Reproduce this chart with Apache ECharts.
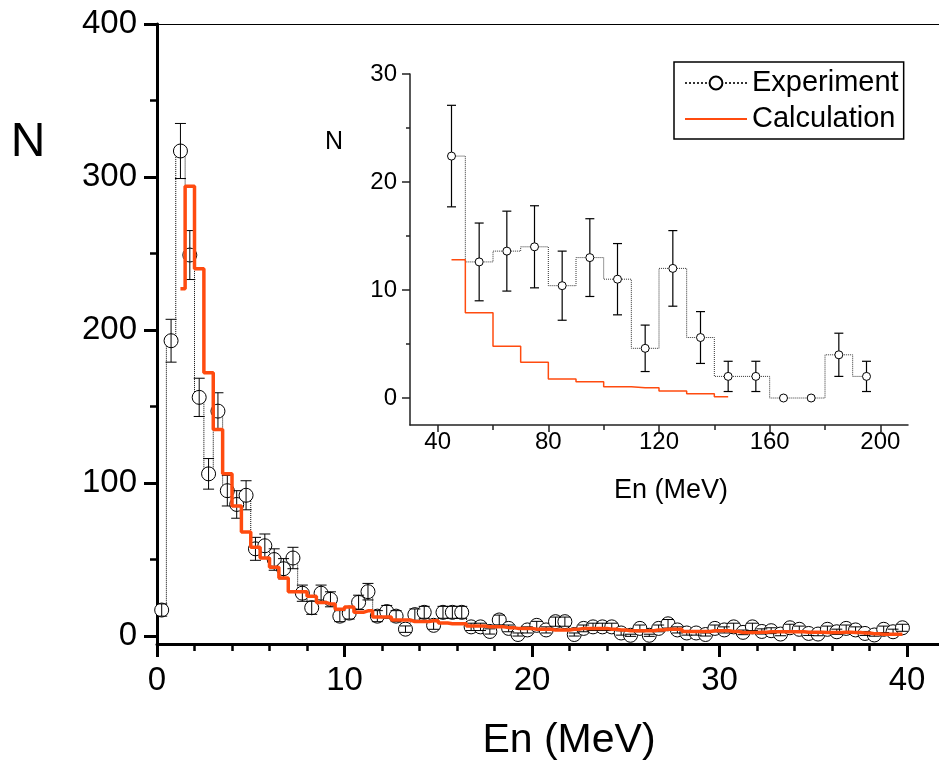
<!DOCTYPE html>
<html><head><meta charset="utf-8">
<script src="https://cdn.jsdelivr.net/npm/echarts@6/dist/echarts.min.js"></script>
<style>html,body{margin:0;padding:0;background:#fff}#c{width:939px;height:762px}</style>
</head><body><div id="c"></div>
<script>
const FONT = '"Liberation Sans", Arial, Helvetica, sans-serif';
const ORANGE = '#ff4b0f';

// ---------- main plot data ----------
const mainBinWidth = 0.5;
const mainExpFirstCenter = 0.25;
const mainExp = [
  17, 193, 317, 249, 156, 106, 147, 95, 86, 92,
  57, 59, 50, 44, 51, 28, 18.5, 28, 24, 13,
  15, 22, 29, 13, 16, 13, 4.5, 14, 15.5, 7,
  15.5, 15.5, 15.5, 6, 6, 3, 10.5, 5, 1, 4,
  7, 4, 9.4, 9.4, 1, 5, 6, 6, 6, 2,
  0.5, 5, 0.5, 5, 8, 4, 2, 2, 1, 5,
  4, 6, 2.4, 6, 3, 3.5, 1.3, 5.4, 4.4, 1.7,
  1.3, 4.4, 2.8, 5, 4, 1.7, 0.7, 4.4, 2.8, 5.4
];
const mainExpErr = [
  4, 14, 18, 16, 12.5, 10, 12, 10, 9, 9.5,
  7.5, 7.7, 7, 6.6, 7, 5.3, 4.3, 5.3, 4.9, 3.6,
  3.9, 4.7, 5.4, 3.6, 4, 3.6, 2.1, 3.7, 3.9, 2.6,
  3.9, 3.9, 3.9, 2.4, 2.4, 1.7, 3.2, 2.2, 1, 2,
  2.6, 2, 3, 3, 1, 2.2, 2.4, 2.4, 2.4, 1.4,
  0.7, 2.2, 0.7, 2.2, 2.8, 2, 1.4, 1.4, 1, 2.2,
  2, 2.4, 1.5, 2.4, 1.7, 1.9, 1.1, 2.3, 2.1, 1.3,
  1.1, 2.1, 1.7, 2.2, 2, 1.3, 0.8, 2.1, 1.7, 2.3
];
const mainCalcFirstCenter = 1.25;
const mainCalc = [
  227, 294, 240, 172, 135, 106, 85, 68, 58, 51,
  45, 38, 29, 29, 26, 22, 21, 17.5, 19, 15.5,
  16.5, 12.5, 12.5, 10.5, 10.5, 9.5, 9.5, 10, 8.5, 8,
  8, 6.5, 6.5, 6, 6, 5.5, 5, 5, 4.5, 4.5,
  4, 4, 4.5, 5, 5, 5, 4.5, 4, 3.5, 3.5,
  3.5, 4, 4.5, 4.5, 3, 3, 3, 3.5, 3.5, 3,
  2.3, 2.3, 2.5, 2.8, 2.8, 2.8, 2.8, 2.5, 2.5, 2.3,
  2.3, 2.5, 2.3, 2, 1.5, 1.2, 1.2, 1.2
];
const mainXTicks = [0, 10, 20, 30, 40];
const mainXMinor = [2, 4, 6, 8, 12, 14, 16, 18, 22, 24, 26, 28, 32, 34, 36, 38];
const mainYTicks = [0, 100, 200, 300, 400];
const mainYMinor = [50, 150, 250, 350];

// ---------- inset data ----------
const insetCenters = [45, 55, 65, 75, 85, 95, 105, 115, 125, 135, 145, 155, 165, 175, 185, 195];
const insetExp = [22.4, 12.6, 13.6, 14.0, 10.4, 13.0, 11.0, 4.6, 12.0, 5.6, 2.0, 2.0, 0, 0, 4.0, 2.0];
const insetErr = [4.7, 3.6, 3.7, 3.8, 3.2, 3.6, 3.3, 2.15, 3.5, 2.4, 1.4, 1.4, 0, 0, 2.0, 1.4];
const insetCalcCenters = [45, 55, 65, 75, 85, 95, 105, 115, 125, 135, 145];
const insetCalc = [12.8, 7.9, 4.8, 3.3, 1.75, 1.5, 1.05, 0.95, 0.65, 0.4, 0.12];
const insetXTicks = [40, 80, 120, 160, 200];
const insetXMinor = [60, 100, 140, 180];
const insetYTicks = [0, 10, 20, 30];
const insetYMinor = [5, 15, 25];

// ---------- build series data ----------
const mainExpData = mainExp.map((v, i) => [mainExpFirstCenter + i * mainBinWidth, v]);
const mainErrData = mainExp.map((v, i) => [mainExpFirstCenter + i * mainBinWidth, v, mainExpErr[i]]);
const mainCalcData = mainCalc.map((v, i) => [mainCalcFirstCenter + i * mainBinWidth, v]);
const insetExpData = insetExp.map((v, i) => [insetCenters[i], v]);
const insetErrData = insetExp.map((v, i) => [insetCenters[i], v, insetErr[i]]);
const insetCalcData = insetCalc.map((v, i) => [insetCalcCenters[i], v]);

function errRender(cap, width) {
  return function (params, api) {
    const x = api.value(0), y = api.value(1), e = api.value(2);
    if (!(e > 0)) return null;
    const top = api.coord([x, y + e]);
    const bot = api.coord([x, y - e]);
    const style = { stroke: '#000', lineWidth: width, fill: null };
    return {
      type: 'group',
      children: [
        { type: 'line', shape: { x1: top[0], y1: top[1], x2: bot[0], y2: bot[1] }, style: style },
        { type: 'line', shape: { x1: top[0] - cap, y1: top[1], x2: top[0] + cap, y2: top[1] }, style: style },
        { type: 'line', shape: { x1: bot[0] - cap, y1: bot[1], x2: bot[0] + cap, y2: bot[1] }, style: style }
      ]
    };
  };
}

const chart = echarts.init(document.getElementById('c'), null, { renderer: 'canvas' });

const mainAxisLine = { show: true, onZero: false, lineStyle: { color: '#000', width: 3 } };
const insetAxisLine = { show: true, onZero: false, lineStyle: { color: '#222', width: 1.5 } };
const hiddenLine = { show: false, onZero: false };

const option = {
  animation: false,
  backgroundColor: '#fff',
  grid: [
    { left: 157, right: 0, top: 24, bottom: 118, containLabel: false },
    { left: 410, right: 31, top: 74, bottom: 337, containLabel: false }
  ],
  xAxis: [
    { // 0 main major
      type: 'value', gridIndex: 0, min: 0, max: 41.7, position: 'bottom',
      axisLine: mainAxisLine,
      axisTick: { show: true, customValues: mainXTicks, length: 13, lineStyle: { color: '#000', width: 3 } },
      axisLabel: { show: true, customValues: mainXTicks, fontSize: 33, color: '#000', fontFamily: FONT, margin: 20 },
      splitLine: { show: false }
    },
    { // 1 main minor
      type: 'value', gridIndex: 0, min: 0, max: 41.7, position: 'bottom',
      axisLine: hiddenLine,
      axisTick: { show: true, customValues: mainXMinor, length: 7, lineStyle: { color: '#000', width: 2.5 } },
      axisLabel: { show: false }, splitLine: { show: false }
    },
    { // 2 main top frame
      type: 'value', gridIndex: 0, min: 0, max: 41.7, position: 'top',
      axisLine: { show: true, onZero: false, lineStyle: { color: '#000', width: 1 } },
      axisTick: { show: false }, axisLabel: { show: false }, splitLine: { show: false }
    },
    { // 3 inset major
      type: 'value', gridIndex: 1, min: 30, max: 210, position: 'bottom',
      axisLine: insetAxisLine,
      axisTick: { show: true, customValues: insetXTicks, length: 7, lineStyle: { color: '#222', width: 1.5 } },
      axisLabel: { show: true, customValues: insetXTicks, fontSize: 24, color: '#000', fontFamily: FONT, margin: 5 },
      splitLine: { show: false }
    },
    { // 4 inset minor
      type: 'value', gridIndex: 1, min: 30, max: 210, position: 'bottom',
      axisLine: hiddenLine,
      axisTick: { show: true, customValues: insetXMinor, length: 5, lineStyle: { color: '#222', width: 1.5 } },
      axisLabel: { show: false }, splitLine: { show: false }
    }
  ],
  yAxis: [
    { // 0 main major
      type: 'value', gridIndex: 0, min: -5.2, max: 400, position: 'left',
      axisLine: mainAxisLine,
      axisTick: { show: true, customValues: mainYTicks, length: 13, lineStyle: { color: '#000', width: 3 } },
      axisLabel: { show: true, customValues: mainYTicks, fontSize: 33, color: '#000', fontFamily: FONT, margin: 20 },
      splitLine: { show: false }
    },
    { // 1 main minor
      type: 'value', gridIndex: 0, min: -5.2, max: 400, position: 'left',
      axisLine: hiddenLine,
      axisTick: { show: true, customValues: mainYMinor, length: 7, lineStyle: { color: '#000', width: 2.5 } },
      axisLabel: { show: false }, splitLine: { show: false }
    },
    { // 2 inset major
      type: 'value', gridIndex: 1, min: -2.5, max: 30, position: 'left',
      axisLine: insetAxisLine,
      axisTick: { show: true, customValues: insetYTicks, length: 8, lineStyle: { color: '#222', width: 1.5 } },
      axisLabel: { show: true, customValues: insetYTicks, fontSize: 24, color: '#000', fontFamily: FONT, margin: 13 },
      splitLine: { show: false }
    },
    { // 3 inset minor
      type: 'value', gridIndex: 1, min: -2.5, max: 30, position: 'left',
      axisLine: hiddenLine,
      axisTick: { show: true, customValues: insetYMinor, length: 4, lineStyle: { color: '#222', width: 1.5 } },
      axisLabel: { show: false }, splitLine: { show: false }
    }
  ],
  legend: {
    data: [{ name: 'Experiment' }, { name: 'Calculation', itemStyle: { opacity: 0 } }],
    orient: 'vertical',
    left: 674, top: 62,
    itemWidth: 62, itemHeight: 16, itemGap: 4,
    padding: [5, 5, 4, 10],
    borderColor: '#000', borderWidth: 1.5, borderRadius: 0,
    backgroundColor: '#fff',
    selectedMode: false,
    textStyle: { fontSize: 29, fontFamily: FONT, color: '#000', lineHeight: 32 }
  },
  graphic: [
    { type: 'text', x: 28, y: 143, style: { text: 'N', fontSize: 48, fontFamily: FONT, fill: '#000', textAlign: 'center', textVerticalAlign: 'middle' } },
    { type: 'text', x: 569, y: 741, style: { text: 'En (MeV)', fontSize: 41, fontFamily: FONT, fill: '#000', textAlign: 'center', textVerticalAlign: 'middle' } },
    { type: 'text', x: 334, y: 142, style: { text: 'N', fontSize: 25, fontFamily: FONT, fill: '#000', textAlign: 'center', textVerticalAlign: 'middle' } },
    { type: 'text', x: 671, y: 491, style: { text: 'En (MeV)', fontSize: 27, fontFamily: FONT, fill: '#000', textAlign: 'center', textVerticalAlign: 'middle' } }
  ],
  series: [
    {
      name: 'Experiment', type: 'line', xAxisIndex: 3, yAxisIndex: 2, data: insetExpData,
      step: 'middle', symbol: 'circle', symbolSize: 8, showAllSymbol: true,
      lineStyle: { color: '#333', width: 1, type: 'dotted' },
      itemStyle: { color: '#fff', borderColor: '#000', borderWidth: 1 },
      z: 3, silent: true
    },
    {
      name: 'insetErr', type: 'custom', xAxisIndex: 3, yAxisIndex: 2, data: insetErrData,
      renderItem: errRender(4.5, 1.2), encode: { x: 0, y: 1 }, z: 2, silent: true
    },
    {
      name: 'Calculation', type: 'line', xAxisIndex: 3, yAxisIndex: 2, data: insetCalcData,
      step: 'middle', symbol: 'none', showSymbol: false,
      lineStyle: { color: ORANGE, width: 1.5 }, z: 4, silent: true
    },
    {
      name: 'Experiment', type: 'line', xAxisIndex: 0, yAxisIndex: 0, data: mainExpData,
      step: 'middle', symbol: 'circle', symbolSize: 14, showAllSymbol: true,
      lineStyle: { color: '#000', width: 1, type: 'dotted' },
      itemStyle: { color: '#fff', borderColor: '#000', borderWidth: 1 },
      z: 2, silent: true
    },
    {
      name: 'mainErr', type: 'custom', xAxisIndex: 0, yAxisIndex: 0, data: mainErrData,
      renderItem: errRender(5.5, 1), encode: { x: 0, y: 1 }, z: 3, silent: true
    },
    {
      name: 'Calculation', type: 'line', xAxisIndex: 0, yAxisIndex: 0, data: mainCalcData,
      step: 'middle', symbol: 'none', showSymbol: false,
      lineStyle: { color: ORANGE, width: 3.5 }, z: 4, silent: true
    }
  ]
};
chart.setOption(option);
</script>
</body></html>
